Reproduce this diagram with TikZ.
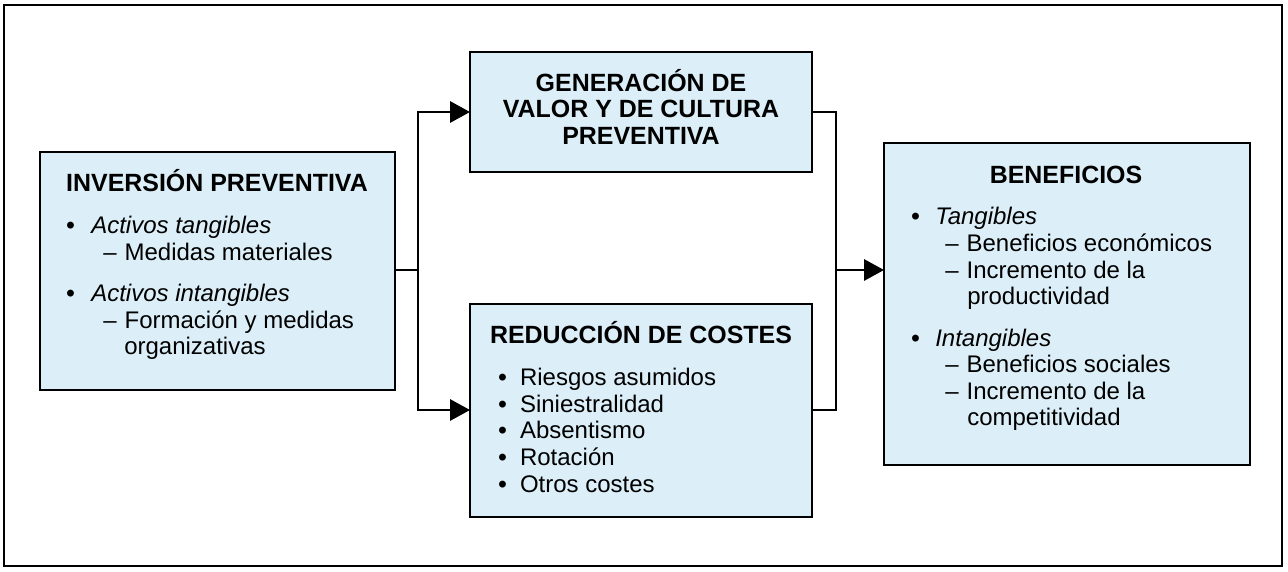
\documentclass[tikz,border=0pt]{standalone}
\usepackage{fontspec}
\setmainfont{Liberation Sans}
\usetikzlibrary{arrows.meta}
\definecolor{boxfill}{HTML}{DCEFF8}
\newcommand{\bul}{\textbf{•}}
\begin{document}
\begin{tikzpicture}[x=0.75pt,y=-0.75pt,
  box/.style={draw=black,line width=0.9pt,fill=boxfill},
  conn/.style={line width=1.6pt},
  arr/.style={conn,-{Triangle[length=15pt,width=16pt]}},
  tx/.style={anchor=base west,inner sep=0pt,font=\fontsize{18}{21}\selectfont},
  hd/.style={anchor=base,inner sep=0pt,font=\fontsize{18.7}{22}\selectfont\bfseries,align=center}]
\useasboundingbox (0,0) rectangle (1288,571);
\draw[line width=0.8pt] (4,5) rectangle (1282,566);
% boxes
\draw[box] (40,152) rectangle (395,390);
\draw[box] (470,52) rectangle (812,172);
\draw[box] (470,304) rectangle (812,517);
\draw[box] (884,143) rectangle (1250,465);
\coordinate (L) at (395,270);
\coordinate (LJ) at (418,270);
\coordinate (T) at (470,112);
\coordinate (B) at (470,410);
\coordinate (TR) at (812,112);
\coordinate (BR) at (812,410);
\coordinate (RJ) at (836,270);
\coordinate (R) at (884,270);
\draw[conn] (L) -- (LJ);
\draw[arr] (LJ) |- (T);
\draw[arr] (LJ) |- (B);
\draw[conn] (TR) -| (RJ) |- (BR);
\draw[arr] (RJ) -- (R);
% left text
\node[hd] (lh) at (217,191) {INVERSIÓN PREVENTIVA};
\node[tx] (l1) at (66,233) {\bul};
\node[tx] (l2) at (91,233) {\itshape Activos tangibles};
\node[tx] (l3) at (103,260) {–\hspace{6pt}Medidas materiales};
\node[tx] (l4) at (66,301) {\bul};
\node[tx] (l5) at (91,301) {\itshape Activos intangibles};
\node[tx] (l6) at (103,328) {–\hspace{6pt}Formación y medidas};
\node[tx] (l7) at (124,354) {organizativas};
% middle top
\node[hd] (m1) at (641,91) {GENERACIÓN DE};
\node[hd] (m2) at (641,117) {VALOR Y DE CULTURA};
\node[hd] (m3) at (641,144) {PREVENTIVA};
% middle bottom
\node[hd] (mh) at (641,343) {REDUCCIÓN DE COSTES};
\node[tx] (b1) at (498,385) {\bul\hspace{10pt}Riesgos asumidos};
\node[tx] (b2) at (498,412) {\bul\hspace{10pt}Siniestralidad};
\node[tx] (b3) at (498,438) {\bul\hspace{10pt}Absentismo};
\node[tx] (b4) at (498,465) {\bul\hspace{10pt}Rotación};
\node[tx] (b5) at (498,492) {\bul\hspace{10pt}Otros costes};
% right
\node[hd] (rh) at (1066,183) {BENEFICIOS};
\node[tx] (r1) at (911,224) {\bul};
\node[tx] (r2) at (935,224) {\itshape Tangibles};
\node[tx] (r3) at (945,251) {–\hspace{6pt}Beneficios económicos};
\node[tx] (r4) at (945,278) {–\hspace{6pt}Incremento de la};
\node[tx] (r5) at (967,304) {productividad};
\node[tx] (r6) at (911,346) {\bul};
\node[tx] (r7) at (935,346) {\itshape Intangibles};
\node[tx] (r8) at (945,372) {–\hspace{6pt}Beneficios sociales};
\node[tx] (r9) at (945,399) {–\hspace{6pt}Incremento de la};
\node[tx] (r10) at (967,425) {competitividad};
\end{tikzpicture}
\end{document}
